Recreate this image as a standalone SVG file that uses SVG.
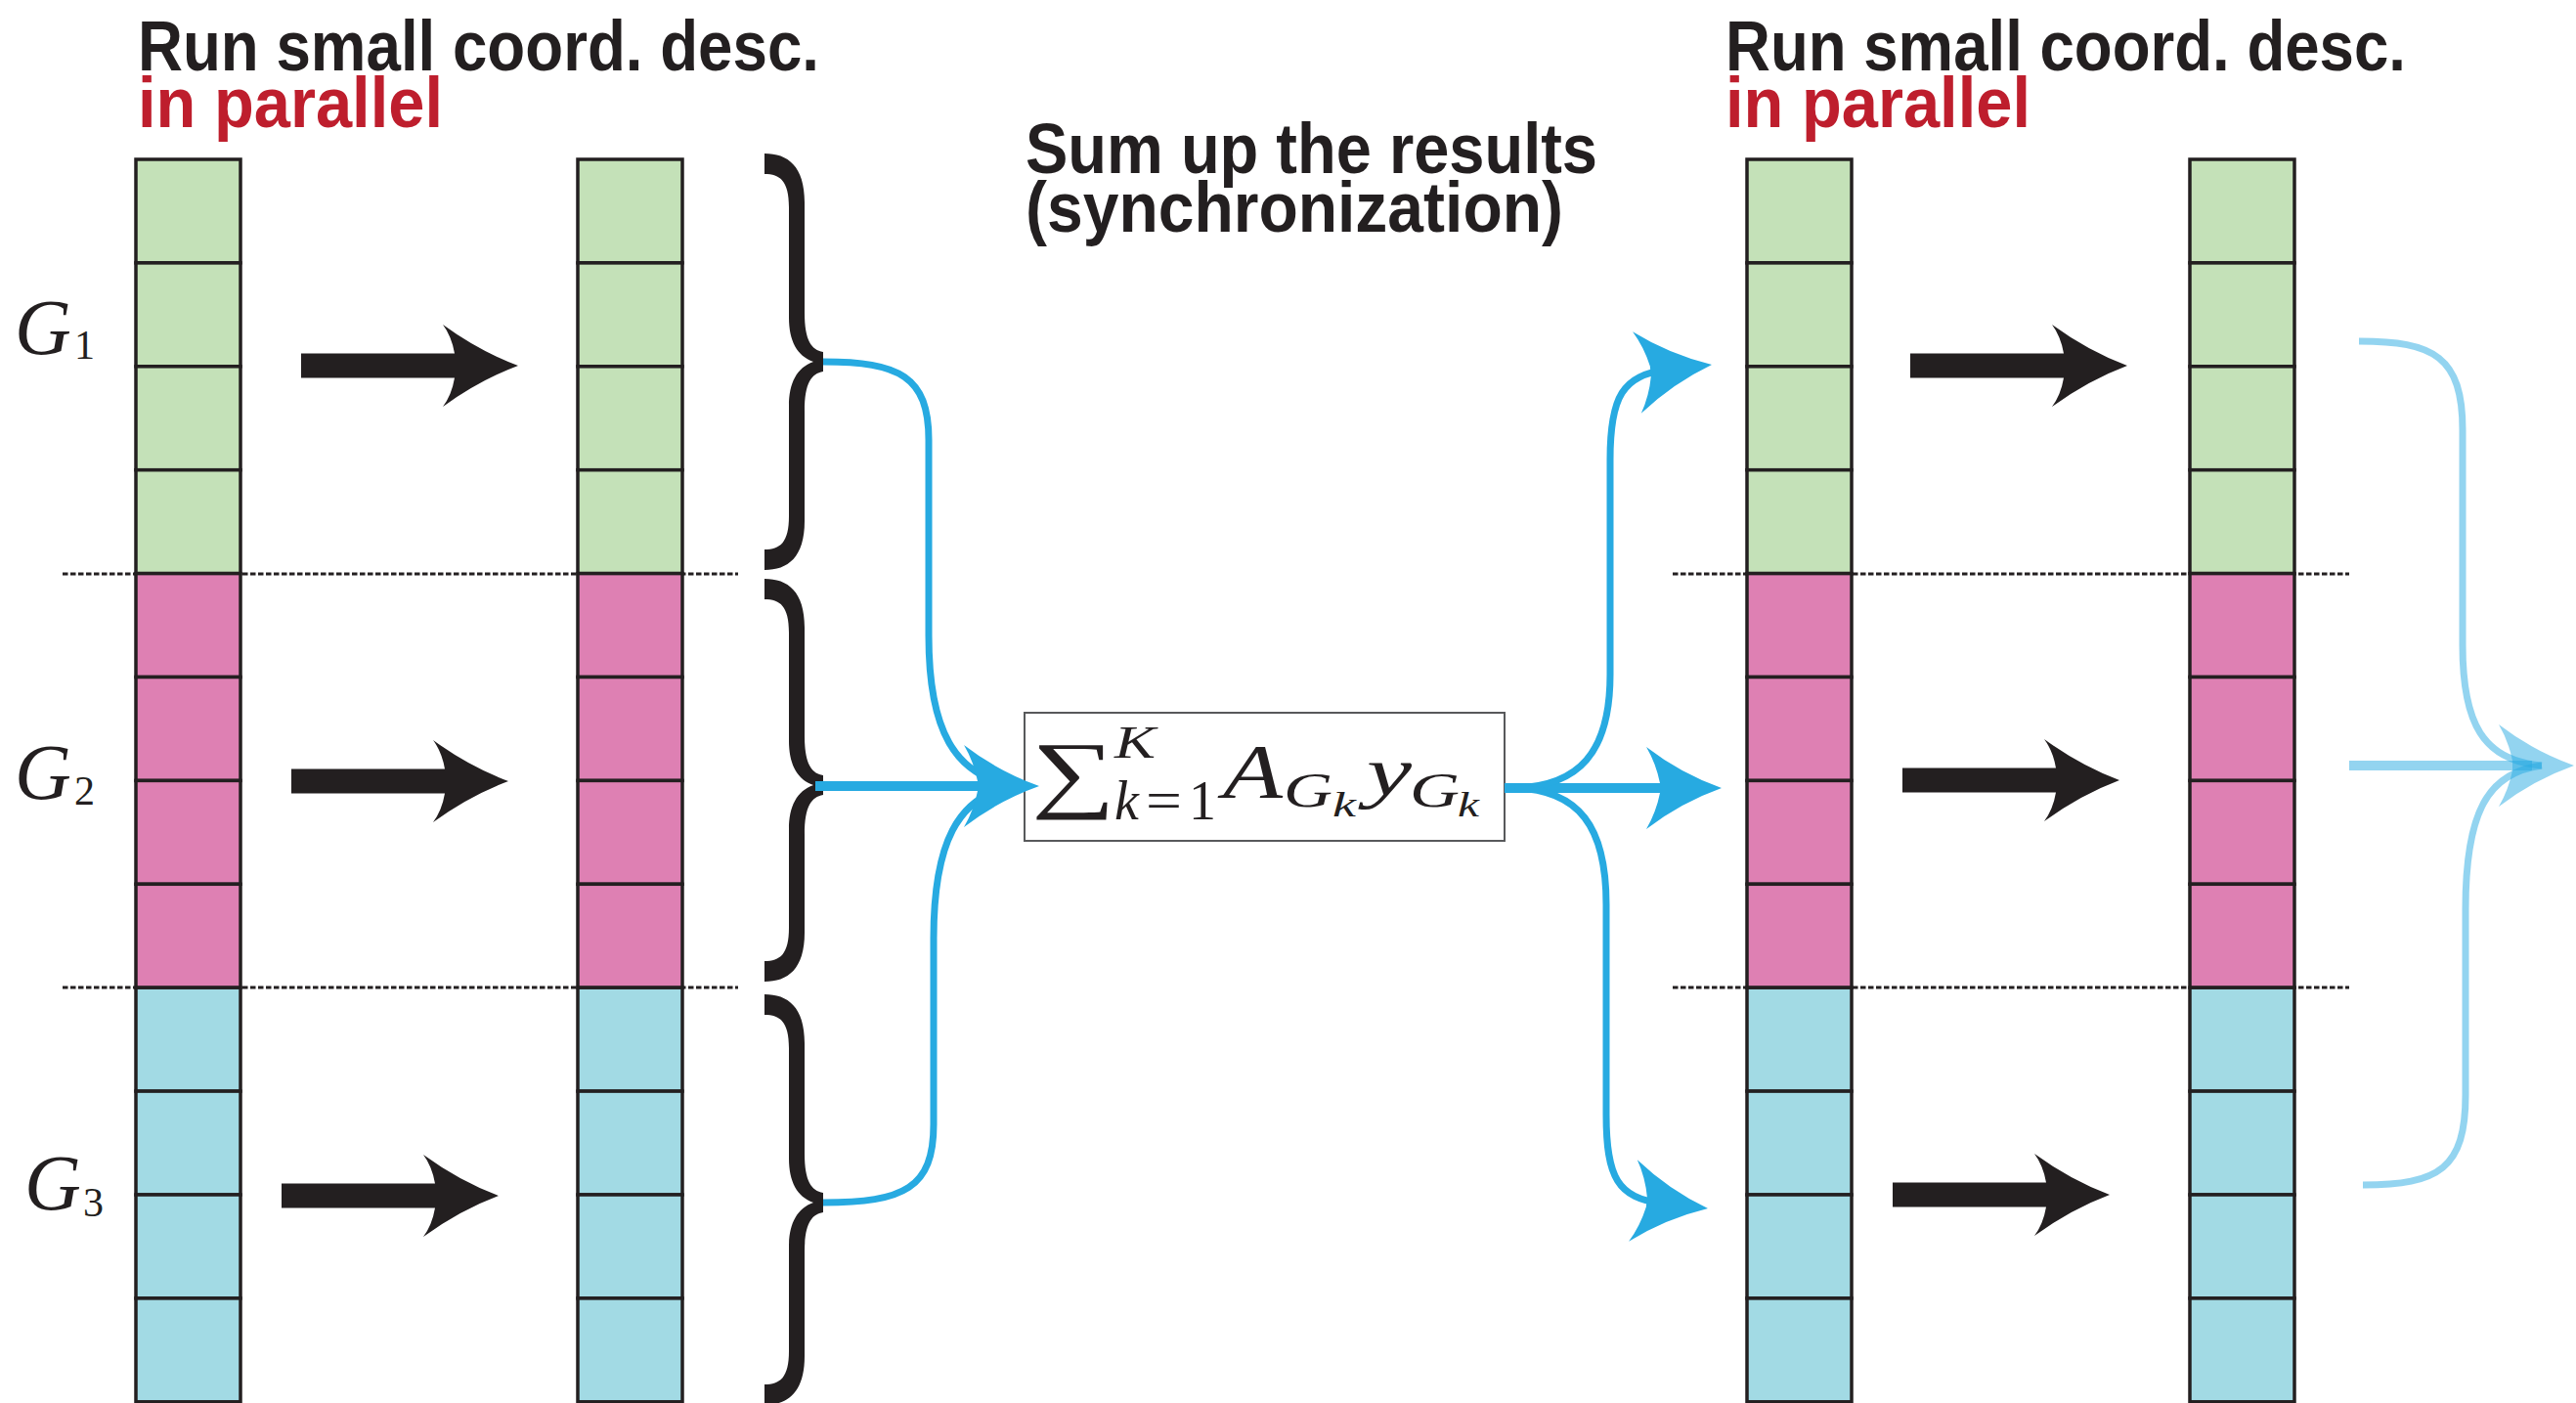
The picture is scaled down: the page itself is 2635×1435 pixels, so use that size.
<svg xmlns="http://www.w3.org/2000/svg" xmlns:xlink="http://www.w3.org/1999/xlink" width="2635" height="1435" viewBox="0 0 2635 1435">
  <style>
    .title { font-family: "Liberation Sans", Arial, sans-serif; font-weight: bold; font-size: 73px; fill: #231F20; }
    .red { fill: #BE1E2D; }
    .math { font-family: "Liberation Serif", "DejaVu Serif", serif; font-style: italic; fill: #231F20; }
    .up { font-style: normal; }
    .cell { stroke: #231F20; stroke-width: 3.5; }
    .gr { fill: #C4E1B8; }
    .pk { fill: #DE80B3; }
    .cy { fill: #A2DAE4; }
    .dash { stroke: #231F20; stroke-width: 3.2; stroke-dasharray: 5.5 2.5; fill: none; }
    .brace { fill: #231F20; }
    .blue { fill: none; stroke: #27AAE1; stroke-width: 7; }
    .blue-thick { fill: none; stroke: #27AAE1; stroke-width: 10; }
    .faint { opacity: 0.5; }
  </style>
  <defs>
    <!-- block arrow with concave head, tip at origin -->
    <path id="blockArrow" d="M0 0 Q-40 -15 -77 -42 Q-68 -30 -65 -12.5 L-222 -12.5 L-222 12.5 L-65 12.5 Q-68 30 -77 42 Q-40 15 0 0 Z" fill="#231F20"/>
    <!-- head used on the blue connectors, tip at origin -->
    <path id="blueHead" d="M0 0 Q-42 -15 -77 -42 Q-67 -25 -63 -5 L-63 5 Q-67 25 -77 42 Q-42 15 0 0 Z" fill="#27AAE1"/>
  </defs>

  <rect width="2635" height="1435" fill="#FFFFFF"/>

  <!-- headings -->
  <g id="heading-left">
    <text class="title"><tspan x="141" y="72" textLength="697" lengthAdjust="spacingAndGlyphs">Run small coord. desc.</tspan><tspan class="red" x="141" y="130" textLength="312" lengthAdjust="spacingAndGlyphs">in parallel</tspan></text>
  </g>
  <g id="heading-middle">
    <text class="title"><tspan x="1049" y="177" textLength="585" lengthAdjust="spacingAndGlyphs">Sum up the results</tspan><tspan x="1049" y="237" textLength="550" lengthAdjust="spacingAndGlyphs">(synchronization)</tspan></text>
  </g>
  <g id="heading-right">
    <text class="title"><tspan x="1765" y="72" textLength="696" lengthAdjust="spacingAndGlyphs">Run small coord. desc.</tspan><tspan class="red" x="1765" y="130" textLength="312" lengthAdjust="spacingAndGlyphs">in parallel</tspan></text>
  </g>

  <!-- group separators -->
  <g id="separators">
    <line class="dash" x1="64" y1="587" x2="755" y2="587"/>
    <line class="dash" x1="64" y1="1010" x2="755" y2="1010"/>
    <line class="dash" x1="1711" y1="587" x2="2403" y2="587"/>
    <line class="dash" x1="1711" y1="1010" x2="2403" y2="1010"/>
  </g>

  <!-- group labels -->
  <g id="label-G1">
    <text class="math" x="15" y="362" font-size="80">G<tspan class="up" x="76" y="367" font-size="42">1</tspan></text>
  </g>
  <g id="label-G2">
    <text class="math" x="15" y="817" font-size="80">G<tspan class="up" x="76" y="823" font-size="42">2</tspan></text>
  </g>
  <g id="label-G3">
    <text class="math" x="25" y="1237" font-size="80">G<tspan class="up" x="85" y="1244" font-size="42">3</tspan></text>
  </g>

  <!-- coordinate vectors: 12 blocks each, 4 per group -->
  <g id="vector-1">
    <rect class="cell gr" x="139" y="163" width="107" height="105.9"/>
    <rect class="cell gr" x="139" y="268.9" width="107" height="105.9"/>
    <rect class="cell gr" x="139" y="374.8" width="107" height="105.9"/>
    <rect class="cell gr" x="139" y="480.7" width="107" height="105.9"/>
    <rect class="cell pk" x="139" y="586.6" width="107" height="105.9"/>
    <rect class="cell pk" x="139" y="692.5" width="107" height="105.9"/>
    <rect class="cell pk" x="139" y="798.4" width="107" height="105.9"/>
    <rect class="cell pk" x="139" y="904.3" width="107" height="105.9"/>
    <rect class="cell cy" x="139" y="1010.2" width="107" height="105.9"/>
    <rect class="cell cy" x="139" y="1116.1" width="107" height="105.9"/>
    <rect class="cell cy" x="139" y="1222" width="107" height="105.9"/>
    <rect class="cell cy" x="139" y="1327.9" width="107" height="105.9"/>
  </g>
  <g id="vector-2">
    <rect class="cell gr" x="591" y="163" width="107" height="105.9"/>
    <rect class="cell gr" x="591" y="268.9" width="107" height="105.9"/>
    <rect class="cell gr" x="591" y="374.8" width="107" height="105.9"/>
    <rect class="cell gr" x="591" y="480.7" width="107" height="105.9"/>
    <rect class="cell pk" x="591" y="586.6" width="107" height="105.9"/>
    <rect class="cell pk" x="591" y="692.5" width="107" height="105.9"/>
    <rect class="cell pk" x="591" y="798.4" width="107" height="105.9"/>
    <rect class="cell pk" x="591" y="904.3" width="107" height="105.9"/>
    <rect class="cell cy" x="591" y="1010.2" width="107" height="105.9"/>
    <rect class="cell cy" x="591" y="1116.1" width="107" height="105.9"/>
    <rect class="cell cy" x="591" y="1222" width="107" height="105.9"/>
    <rect class="cell cy" x="591" y="1327.9" width="107" height="105.9"/>
  </g>
  <g id="vector-3">
    <rect class="cell gr" x="1787" y="163" width="107" height="105.9"/>
    <rect class="cell gr" x="1787" y="268.9" width="107" height="105.9"/>
    <rect class="cell gr" x="1787" y="374.8" width="107" height="105.9"/>
    <rect class="cell gr" x="1787" y="480.7" width="107" height="105.9"/>
    <rect class="cell pk" x="1787" y="586.6" width="107" height="105.9"/>
    <rect class="cell pk" x="1787" y="692.5" width="107" height="105.9"/>
    <rect class="cell pk" x="1787" y="798.4" width="107" height="105.9"/>
    <rect class="cell pk" x="1787" y="904.3" width="107" height="105.9"/>
    <rect class="cell cy" x="1787" y="1010.2" width="107" height="105.9"/>
    <rect class="cell cy" x="1787" y="1116.1" width="107" height="105.9"/>
    <rect class="cell cy" x="1787" y="1222" width="107" height="105.9"/>
    <rect class="cell cy" x="1787" y="1327.9" width="107" height="105.9"/>
  </g>
  <g id="vector-4">
    <rect class="cell gr" x="2240" y="163" width="107" height="105.9"/>
    <rect class="cell gr" x="2240" y="268.9" width="107" height="105.9"/>
    <rect class="cell gr" x="2240" y="374.8" width="107" height="105.9"/>
    <rect class="cell gr" x="2240" y="480.7" width="107" height="105.9"/>
    <rect class="cell pk" x="2240" y="586.6" width="107" height="105.9"/>
    <rect class="cell pk" x="2240" y="692.5" width="107" height="105.9"/>
    <rect class="cell pk" x="2240" y="798.4" width="107" height="105.9"/>
    <rect class="cell pk" x="2240" y="904.3" width="107" height="105.9"/>
    <rect class="cell cy" x="2240" y="1010.2" width="107" height="105.9"/>
    <rect class="cell cy" x="2240" y="1116.1" width="107" height="105.9"/>
    <rect class="cell cy" x="2240" y="1222" width="107" height="105.9"/>
    <rect class="cell cy" x="2240" y="1327.9" width="107" height="105.9"/>
  </g>

  <!-- curly braces collecting each group (filled outlines, thick arms) -->
  <g id="brace-1">
    <path class="brace" d="M782 157 C806 157 823 170 823 207 L823 320 C823 348 830 358 842 360 L842 380 C830 382 823 392 823 420 L823 533 C823 570 806 583 782 583 L782 562 C798 562 807 555 807 528 L807 415 C807 392 815 376 832 370 C815 364 807 348 807 325 L807 212 C807 185 798 178 782 178 Z"/>
  </g>
  <g id="brace-2">
    <path class="brace" d="M782 592 C806 592 823 605 823 642 L823 753 C823 781 830 791 842 793 L842 813 C830 815 823 825 823 853 L823 954 C823 991 806 1004 782 1004 L782 983 C798 983 807 976 807 949 L807 848 C807 825 815 809 832 803 C815 797 807 781 807 758 L807 647 C807 620 798 613 782 613 Z"/>
  </g>
  <g id="brace-3">
    <path class="brace" d="M782 1017 C806 1017 823 1030 823 1067 L823 1180 C823 1208 830 1218 842 1220 L842 1240 C830 1242 823 1252 823 1280 L823 1387 C823 1424 806 1437 782 1437 L782 1416 C798 1416 807 1409 807 1382 L807 1275 C807 1252 815 1236 832 1230 C815 1224 807 1208 807 1185 L807 1072 C807 1045 798 1038 782 1038 Z"/>
  </g>

  <!-- synchronization sum -->
  <g id="sum-box">
    <rect x="1048" y="729" width="491" height="131" fill="#FFFFFF" stroke="#58595B" stroke-width="2"/>
    <text class="math up" transform="translate(1055 820) scale(1.37 1)" font-size="88">∑</text>
    <text class="math" x="1140" y="775" font-size="46" textLength="42" lengthAdjust="spacingAndGlyphs">K</text>
    <text class="math" x="1140" y="838" font-size="56">k</text>
    <text class="math up" x="1172" y="838" font-size="56" textLength="37" lengthAdjust="spacingAndGlyphs">=</text>
    <text class="math up" x="1216" y="838" font-size="56">1</text>
    <text class="math" x="1251" y="815" font-size="78" textLength="61" lengthAdjust="spacingAndGlyphs">A</text>
    <text class="math" x="1313" y="825" font-size="50" textLength="50" lengthAdjust="spacingAndGlyphs">G</text>
    <text class="math" x="1363" y="835" font-size="36" textLength="24" lengthAdjust="spacingAndGlyphs">k</text>
    <text class="math" x="1398" y="813" font-size="70" textLength="46" lengthAdjust="spacingAndGlyphs">y</text>
    <text class="math" x="1442" y="825" font-size="50" textLength="51" lengthAdjust="spacingAndGlyphs">G</text>
    <text class="math" x="1491" y="835" font-size="36" textLength="22" lengthAdjust="spacingAndGlyphs">k</text>
  </g>

  <!-- connectors -->
  <g id="connectors">
    <!-- local coordinate-descent steps -->
    <use xlink:href="#blockArrow" href="#blockArrow" transform="translate(530 374)"/>
    <use xlink:href="#blockArrow" href="#blockArrow" transform="translate(520 799)"/>
    <use xlink:href="#blockArrow" href="#blockArrow" transform="translate(510 1223)"/>
    <use xlink:href="#blockArrow" href="#blockArrow" transform="translate(2176 374)"/>
    <use xlink:href="#blockArrow" href="#blockArrow" transform="translate(2168 798)"/>
    <use xlink:href="#blockArrow" href="#blockArrow" transform="translate(2158 1222)"/>

    <!-- gather into the sum -->
    <path class="blue" d="M842 370 C920 370 950 385 950 450 L950 650 C950 745 975 795 1040 804"/>
    <path class="blue" d="M842 1230 C925 1230 955 1215 955 1150 L955 960 C955 865 978 812 1040 804"/>
    <path class="blue-thick" d="M834 804 L1010 804"/>
    <use xlink:href="#blueHead" href="#blueHead" transform="translate(1063 804)"/>

    <!-- broadcast back to the groups -->
    <path class="blue-thick" d="M1539 806 L1712 806"/>
    <path class="blue" d="M1550 806 C1615 804 1647 770 1647 690 L1647 470 C1647 405 1660 384 1705 378"/>
    <path class="blue" d="M1550 806 C1615 808 1643 845 1643 925 L1643 1140 C1643 1205 1655 1225 1700 1231"/>
    <use xlink:href="#blueHead" href="#blueHead" transform="translate(1761 806)"/>
    <use xlink:href="#blueHead" href="#blueHead" transform="translate(1751 373) rotate(-6)"/>
    <use xlink:href="#blueHead" href="#blueHead" transform="translate(1747 1236) rotate(6)"/>

    <!-- next synchronization round -->
    <path class="blue faint" stroke-width="8" d="M2413 349 C2490 349 2519 365 2519 440 L2519 660 C2519 740 2540 778 2600 783"/>
    <path class="blue faint" stroke-width="8" d="M2417 1212 C2495 1212 2522 1195 2522 1120 L2522 930 C2522 830 2545 790 2600 783"/>
    <path class="blue-thick faint" stroke-width="9" d="M2403 783 L2590 783"/>
    <use class="faint" xlink:href="#blueHead" href="#blueHead" transform="translate(2633 783)"/>
  </g>
</svg>
